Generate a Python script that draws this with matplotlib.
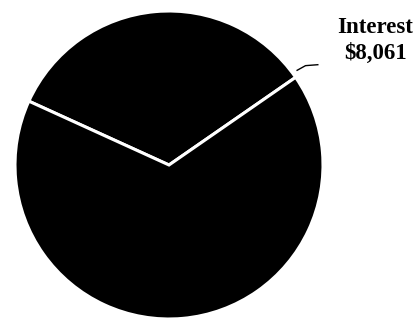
import numpy as np
import matplotlib
matplotlib.use('Agg')
import matplotlib.pyplot as plt

# data (only one slice is labelled)
labels = ['Interest', 'Other']
values = [8061, 15960]
start_angle = 34.7

W, H = 417, 318
fig = plt.figure(figsize=(W / 100, H / 100), dpi=100)
ax = fig.add_axes([0, 0, 1, 1])

cx, cy, r = 169, H - 165, 154
wedges, _ = ax.pie(values, startangle=start_angle, counterclock=True,
                   colors=['black', 'black'], center=(cx, cy), radius=r,
                   wedgeprops=dict(edgecolor='white', linewidth=2.2))
ax.set_xlim(0, W)
ax.set_ylim(0, H)
ax.set_aspect('equal')
ax.axis('off')

# leader from the interest slice out to its label
th = np.deg2rad(wedges[0].theta1 + 1.8)
x0, y0 = cx + r * 1.03 * np.cos(th), cy + r * 1.03 * np.sin(th)
ax.plot([x0, x0 + 9, x0 + 22], [y0, y0 + 5, y0 + 6], color='black', lw=1.0,
        solid_capstyle='butt')

font = dict(family='Liberation Serif', weight='bold', size=16.5, color='black')
ax.text(375, H - 33, labels[0], ha='center', va='baseline', **font)
ax.text(376, H - 59, f'${values[0]:,}', ha='center', va='baseline', **font)

fig.savefig('out.png', dpi=100, facecolor='white')
